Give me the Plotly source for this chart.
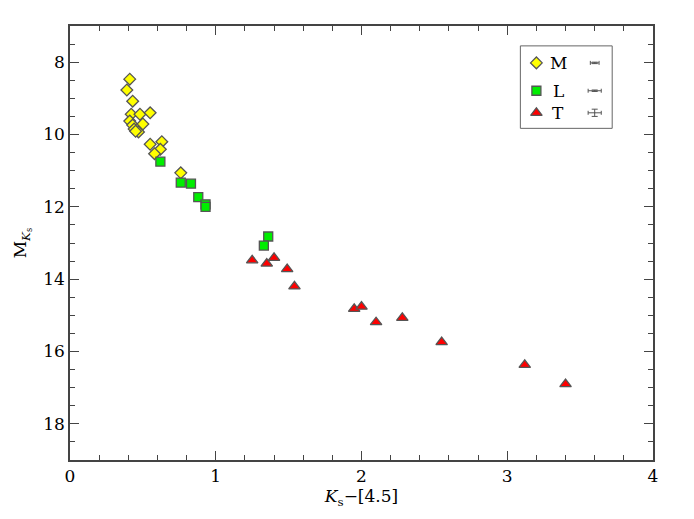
import plotly.graph_objects as go

# spectral type groups: K_s - [4.5] colour and absolute K_s magnitude
m_color = [0.41, 0.39, 0.43, 0.42, 0.48, 0.55, 0.41, 0.43, 0.50, 0.44, 0.46, 0.47,
           0.45, 0.55, 0.63, 0.62, 0.58, 0.76]
m_mag = [8.47, 8.77, 9.08, 9.44, 9.44, 9.40, 9.63, 9.74, 9.71, 9.85, 9.88, 9.93,
         9.91, 10.27, 10.20, 10.41, 10.53, 11.06]

l_color = [0.62, 0.76, 0.83, 0.88, 0.93, 0.93, 1.36, 1.33]
l_mag = [10.75, 11.33, 11.36, 11.73, 11.93, 12.00, 12.82, 13.07]

t_color = [1.25, 1.35, 1.40, 1.49, 1.54, 1.95, 2.00, 2.10, 2.28, 2.55, 3.12, 3.40]
t_mag = [13.48, 13.57, 13.41, 13.72, 14.20, 14.82, 14.76, 15.19, 15.07, 15.74,
         16.37, 16.90]

# typical errors shown in the legend (colour, magnitude)
legend_names = ["M", "L", "T"]
typ_err_color = [0.03, 0.045, 0.045]
typ_err_mag = [0.02, 0.02, 0.10]

SERIF = "DejaVu Serif"
txt = dict(family=SERIF, size=17, color="black")

styles = [
    dict(symbol="diamond", color="#ffff00", size=9),
    dict(symbol="square", color="#00ee00", size=9),
    dict(symbol="triangle-up", color="#ff0000", size=10),
]
edge = dict(color="#555555", width=1.3)

fig = go.Figure()
for xs, ys, st in zip([m_color, l_color, t_color], [m_mag, l_mag, t_mag], styles):
    fig.add_trace(go.Scatter(x=xs, y=ys, mode="markers", showlegend=False,
                             marker=dict(symbol=st["symbol"], color=st["color"],
                                         size=st["size"], line=edge)))

# hand made legend box in the upper right corner
key_y = [8.02, 8.79, 9.40]
for name, ky, st, ex, ey in zip(legend_names, key_y, styles, typ_err_color, typ_err_mag):
    fig.add_trace(go.Scatter(x=[3.2], y=[ky], mode="markers", showlegend=False,
                             marker=dict(symbol=st["symbol"], color=st["color"],
                                         size=st["size"], line=edge)))
    fig.add_annotation(x=3.35, y=ky, text=name, showarrow=False, font=txt)
    fig.add_trace(go.Scatter(x=[3.6], y=[ky], mode="markers", showlegend=False,
                             marker=dict(size=1, color="#555555"),
                             error_x=dict(type="constant", value=ex, color="#555555",
                                          thickness=1, width=2),
                             error_y=dict(type="constant", value=ey, color="#555555",
                                          thickness=1, width=3)))
fig.add_shape(type="rect", x0=3.09, x1=3.72, y0=7.55, y1=9.83,
              line=dict(color="#666666", width=1))

axis_common = dict(showline=True, linecolor="#444444", linewidth=1.5, mirror="allticks",
                   ticks="inside", ticklen=9, tickwidth=1, tickcolor="#444444",
                   showgrid=False, zeroline=False, tickfont=txt, automargin=False)

# the page body adds an 8px offset, margins compensate for it
fig.update_layout(
    width=694, height=519,
    margin=dict(l=62, r=49, t=18, b=67),
    plot_bgcolor="white", paper_bgcolor="white",
    font=txt,
    xaxis=dict(range=[0, 4], tickvals=[0, 1, 2, 3, 4],
               minor=dict(dtick=0.2, ticks="inside", ticklen=5, tickcolor="#444444"),
               title=dict(text="<i>K</i><sub>s</sub>\u2212[4.5]", standoff=4, font=txt),
               **axis_common),
    yaxis=dict(range=[19, 7], tickvals=[8, 10, 12, 14, 16, 18],
               minor=dict(dtick=0.5, ticks="inside", ticklen=5, tickcolor="#444444"),
               title=dict(text="M<sub><i>K</i><sub>s</sub></sub>", standoff=12, font=txt),
               **axis_common),
)

fig.write_html("out.html")
